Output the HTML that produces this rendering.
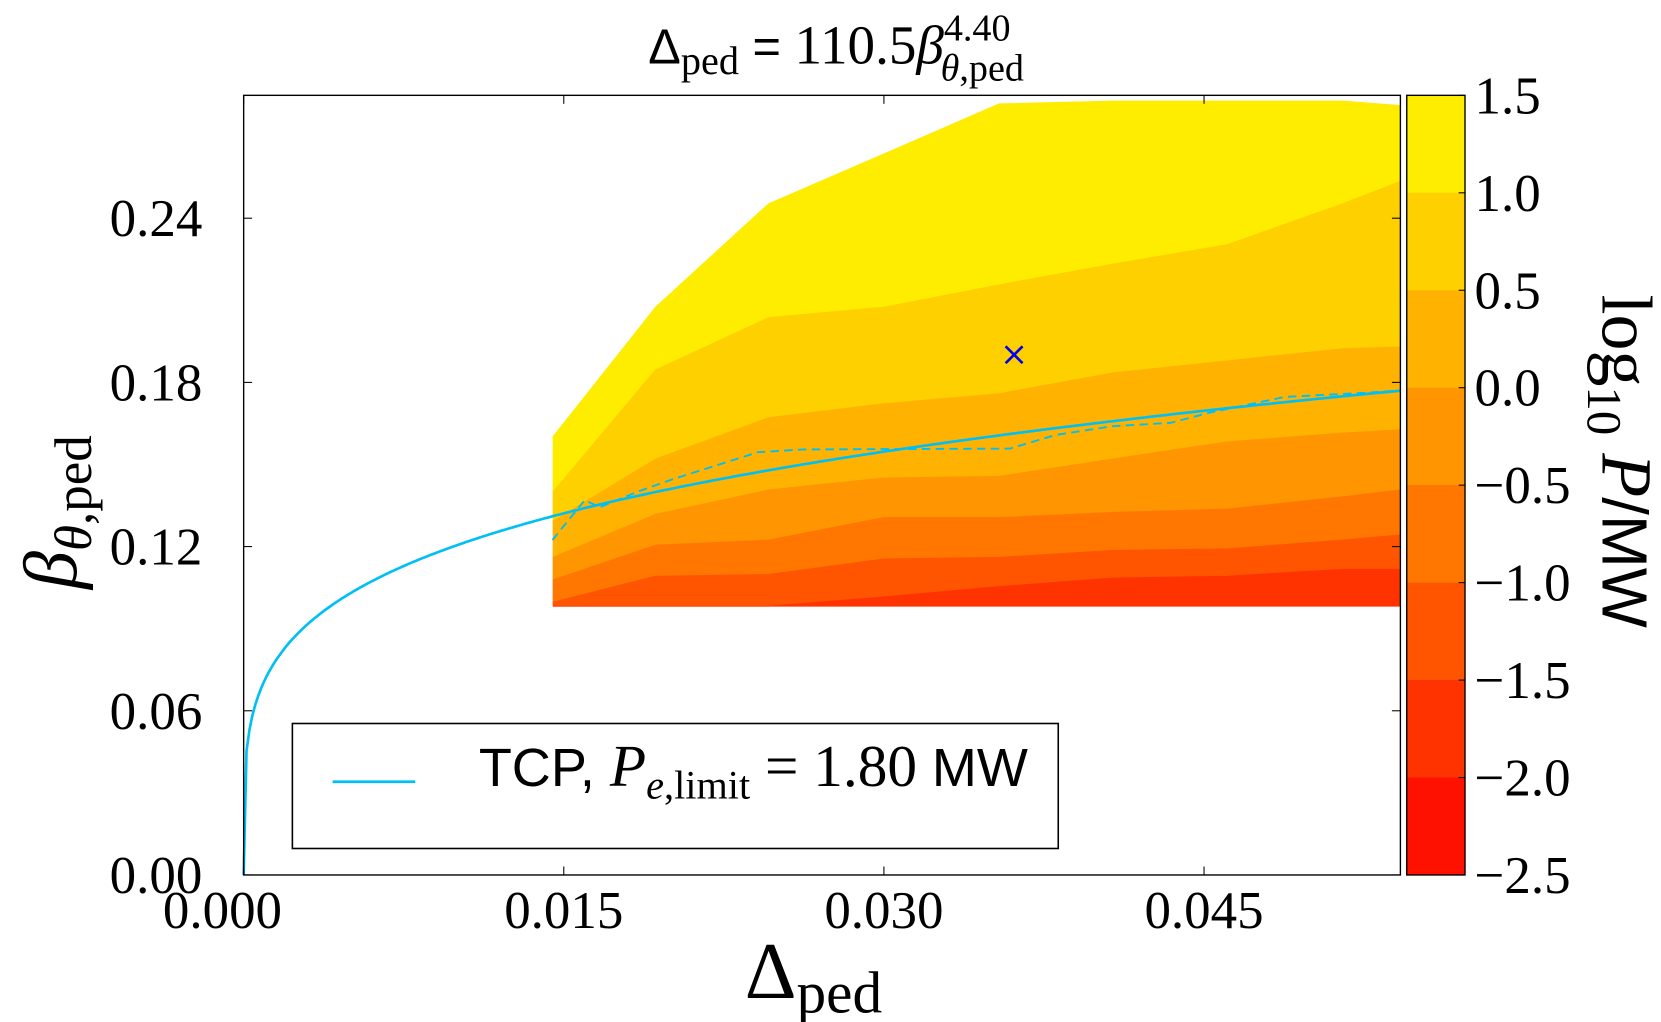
<!DOCTYPE html>
<html><head><meta charset="utf-8"><style>
html,body{margin:0;padding:0;background:#fff;}
svg{display:block;}
text{font-family:"Liberation Serif",serif;fill:#000;}
.sans{font-family:"Liberation Sans",sans-serif;}
</style></head><body>
<svg id="chart" width="1661" height="1022" viewBox="0 0 1568 964.8" xmlns="http://www.w3.org/2000/svg">
<g id="bands"></g>
<g id="lines"></g>
<g id="axes"></g>
<text x="612" y="60" font-size="52"><tspan class="sans" font-size="46">Δ</tspan><tspan font-size="38" dy="10">ped</tspan><tspan class="sans" font-size="46" dy="-10"> = </tspan>110.5<tspan font-style="italic">β</tspan><tspan font-size="36" dy="-22">4.40</tspan><tspan font-size="36" font-style="italic" dx="-66" dy="38">θ</tspan><tspan font-size="36">,ped</tspan></text>
<text x="703" y="942" font-size="76">Δ<tspan font-size="56" dy="14">ped</tspan></text>
<text transform="translate(72,556) rotate(-90)" font-size="72"><tspan font-style="italic">β</tspan><tspan font-size="50" dy="14"><tspan font-style="italic">θ</tspan>,ped</tspan></text>
<text transform="translate(1513,278) rotate(90)" font-size="68">log<tspan font-size="46" dy="14">10</tspan><tspan dy="-14" font-style="italic"> P</tspan><tspan class="sans" font-size="60">/MW</tspan></text>
<g>
<rect x="276" y="683" width="723" height="118" fill="#fff" stroke="#000" stroke-width="1.5"/>
<line x1="314" y1="738" x2="392" y2="738" stroke="#00BFF5" stroke-width="2.5"/>
<text x="452" y="742" font-size="56"><tspan class="sans" font-size="51">TCP, </tspan><tspan font-style="italic">P</tspan><tspan font-size="38" dy="12"><tspan font-style="italic">e</tspan>,limit</tspan><tspan dy="-12"> = 1.80 </tspan><tspan class="sans" font-size="51">MW</tspan></text>
</g>
</svg>
<script>
const xGrid = [0.0145,0.0193,0.0246,0.0300,0.0354,0.0407,0.0461,0.0515,0.0542];
const bTop  = [0.1602,0.2075,0.2453,0.2635,0.2818,0.2828,0.2828,0.2828,0.2812];
const b10   = [0.1400,0.1846,0.2037,0.2075,0.2157,0.2232,0.2304,0.2453,0.2535];
const b05   = [0.1293,0.1520,0.1671,0.1722,0.1759,0.1835,0.1879,0.1923,0.1930];
const b00   = [0.1161,0.1318,0.1407,0.1451,0.1457,0.1520,0.1583,0.1615,0.1627];
const bm05  = [0.1079,0.1205,0.1224,0.1306,0.1306,0.1325,0.1337,0.1382,0.1407];
const bm10  = [0.0997,0.1092,0.1098,0.1155,0.1161,0.1186,0.1192,0.1224,0.1243];
const bm15  = [0.0982,0.0982,0.0982,0.1016,0.1054,0.1085,0.1092,0.1117,0.1117];
const bBot  = [0.0982,0.0982,0.0982,0.0982,0.0982,0.0982,0.0982,0.0982,0.0982];
const bandColors = ['#FFED00','#FFD000','#FFB300','#FF9500','#FF7700','#FF5500','#FF3300'];
const cbLevels = [1.5,1.0,0.5,0.0,-0.5,-1.0,-1.5,-2.0,-2.5];
const cbColors = ['#FFED00','#FFD000','#FFB300','#FF9500','#FF7700','#FF5500','#FF3300','#FF1100'];
const dashX = [0.01447,0.01597,0.01670,0.01844,0.02006,0.02409,0.02623,0.03590,0.03805,0.04073,0.04342,0.04530,0.04879,0.05255,0.05416];
const dashY = [0.1224,0.1369,0.1344,0.1400,0.1445,0.1545,0.1555,0.1558,0.1608,0.1640,0.1652,0.1690,0.1747,0.1762,0.1770];
const fitParams = [110.5, 4.40];
const markerPt = [0.0361, 0.1901];
const xTicks = [0,0.015,0.030,0.045];
const xTickLabels = ['0.000','0.015','0.030','0.045'];
const yTicks = [0,0.06,0.12,0.18,0.24];
const yTickLabels = ['0.00','0.06','0.12','0.18','0.24'];

const L=230,R=1322,T=90,B=826, XMAX=0.0542, YMAX=0.2849;
const CBL=1328, CBR=1383;
const NS='http://www.w3.org/2000/svg';
function sx(v){return L+(v/XMAX)*(R-L);}
function sy(v){return B-(v/YMAX)*(B-T);}
function cy(v){return T+(1.5-v)/4.0*(B-T);}
function mk(tag,attrs,parent){const e=document.createElementNS(NS,tag);for(const k in attrs)e.setAttribute(k,attrs[k]);parent.appendChild(e);return e;}

const bounds=[bTop,b10,b05,b00,bm05,bm10,bm15,bBot];
const gB=document.getElementById('bands');
for(let i=0;i<7;i++){
  const up=bounds[i], lo=bounds[i+1];
  let d='';
  xGrid.forEach((x,j)=>{d+=(j?'L':'M')+sx(x).toFixed(1)+','+sy(up[j]).toFixed(1);});
  for(let j=xGrid.length-1;j>=0;j--){d+='L'+sx(xGrid[j]).toFixed(1)+','+sy(lo[j]).toFixed(1);}
  const p=mk('path',{d:d+'Z',fill:bandColors[i],stroke:bandColors[i],'stroke-width':'0.8'},gB);
  
  
}
const gL=document.getElementById('lines');
let pts=[];
for(let k=0;k<=400;k++){const x=XMAX*k/400;const y=Math.pow(x/fitParams[0],1/fitParams[1]);pts.push(sx(x).toFixed(1)+','+sy(y).toFixed(1));}
const fit=mk('polyline',{points:pts.join(' '),fill:'none',stroke:'#00BFF5','stroke-width':'2.5'},gL);


const dl=mk('polyline',{points:dashX.map((x,i)=>sx(x).toFixed(1)+','+sy(dashY[i]).toFixed(1)).join(' '),fill:'none',stroke:'#00BFF5','stroke-width':'1.8','stroke-dasharray':'8,5'},gL);


const mx=sx(markerPt[0]), my=sy(markerPt[1]);
const mg=mk('g',{stroke:'#0000EE','stroke-width':'2.5'},gL);


mk('line',{x1:mx-8,y1:my-8,x2:mx+8,y2:my+8},mg);
mk('line',{x1:mx-8,y1:my+8,x2:mx+8,y2:my-8},mg);

const gA=document.getElementById('axes');
const frame=mk('rect',{x:L,y:T,width:R-L,height:B-T,fill:'none',stroke:'#000','stroke-width':'1.3'},gA);


xTicks.forEach((v,i)=>{
  const x=sx(v);
  mk('line',{x1:x,y1:B,x2:x,y2:B-8,stroke:'#000','stroke-width':'1'},gA);
  mk('line',{x1:x,y1:T,x2:x,y2:T+8,stroke:'#000','stroke-width':'1'},gA);
  const t=mk('text',{x:x-(i===0?20:0),y:B+50,'text-anchor':'middle','font-size':'50'},gA);
  t.textContent=xTickLabels[i];
  
  
});
yTicks.forEach((v,i)=>{
  const y=sy(v);
  mk('line',{x1:L,y1:y,x2:L+8,y2:y,stroke:'#000','stroke-width':'1'},gA);
  mk('line',{x1:R,y1:y,x2:R-8,y2:y,stroke:'#000','stroke-width':'1'},gA);
  const t=mk('text',{x:191,y:y+17,'text-anchor':'end','font-size':'50'},gA);
  t.textContent=yTickLabels[i];
  
  
});
cbColors.forEach((c,i)=>{
  const r=mk('rect',{x:CBL,y:cy(cbLevels[i]),width:CBR-CBL,height:cy(cbLevels[i+1])-cy(cbLevels[i])+0.5,fill:c},gA);
  
  
});
const cbf=mk('rect',{x:CBL,y:T,width:CBR-CBL,height:B-T,fill:'none',stroke:'#000','stroke-width':'1.3'},gA);


cbLevels.forEach(v=>{
  const y=cy(v);
  mk('line',{x1:CBR,y1:y,x2:CBR-6,y2:y,stroke:'#000','stroke-width':'1'},gA);
  const t=mk('text',{x:1392,y:y+17,'font-size':'50'},gA);
  t.textContent=(v<0?'\u2212':'')+Math.abs(v).toFixed(1);
  
  
});
</script>
</body></html>
